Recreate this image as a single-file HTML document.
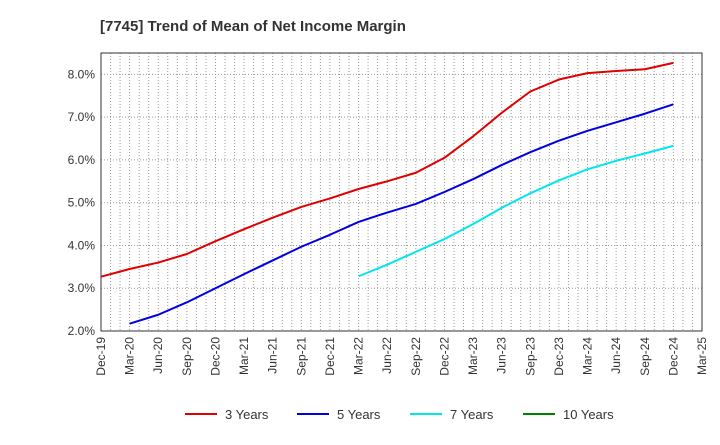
<!DOCTYPE html>
<html><head><meta charset="utf-8"><style>
body{margin:0;background:#fff;}
svg{font-family:"Liberation Sans",sans-serif;}
</style></head><body>
<svg width="720" height="440">
<text x="100" y="31" font-size="15" font-weight="bold" fill="#333">[7745]  Trend of Mean of Net Income Margin</text>
<g id="grid"></g>
<rect x="101" y="53" width="601" height="278" fill="none" stroke="#333" stroke-width="1"/>
<g id="yticks"></g><g id="xticks"></g><g id="series"></g><g id="legend"></g>
</svg>
<script>
const xLabels=["Dec-19","Mar-20","Jun-20","Sep-20","Dec-20","Mar-21","Jun-21","Sep-21","Dec-21","Mar-22","Jun-22","Sep-22","Dec-22","Mar-23","Jun-23","Sep-23","Dec-23","Mar-24","Jun-24","Sep-24","Dec-24","Mar-25"];
const yTicks=[2,3,4,5,6,7,8];
const y3=[3.27,3.45,3.6,3.8,4.1,4.38,4.65,4.9,5.1,5.32,5.5,5.7,6.05,6.55,7.1,7.6,7.88,8.03,8.08,8.12,8.27];
const y5=[null,2.17,2.38,2.67,3.0,3.33,3.65,3.97,4.25,4.55,4.77,4.97,5.25,5.55,5.88,6.18,6.45,6.68,6.88,7.08,7.3];
const y7=[null,null,null,null,null,null,null,null,null,3.28,3.55,3.85,4.15,4.5,4.88,5.22,5.52,5.78,5.98,6.15,6.33];
const y10=[];
const L=101,R=702,T=53,B=331,NS="http://www.w3.org/2000/svg";
const X=i=>L+(R-L)*i/(xLabels.length-1);
const Y=v=>B-(v-2)*(B-T)/6.5;
function mk(tag,at,p){const e=document.createElementNS(NS,tag);for(const k in at)e.setAttribute(k,at[k]);p.appendChild(e);return e;}
const grid=document.getElementById('grid');
for(let m=1;m<(xLabels.length-1)*3;m++){const x=L+(R-L)*m/((xLabels.length-1)*3);
const l=mk('line',{x1:x,x2:x,y1:T,y2:B,stroke:'#999','stroke-dasharray':'1,2'},grid);

}
const yt=document.getElementById('yticks');
yTicks.forEach(v=>{const y=Y(v);
const l=mk('line',{x1:L,x2:R,y1:y,y2:y,stroke:'#999','stroke-dasharray':'1,2'},grid);


const t=mk('text',{x:L-6,y:y+4,'text-anchor':'end','font-size':12,fill:'#333'},yt);
t.textContent=v.toFixed(1)+'%';

});
const xt=document.getElementById('xticks');
xLabels.forEach((s,i)=>{const x=X(i);
const t=mk('text',{x:x+4,y:B+6,'text-anchor':'end','font-size':12,fill:'#333',transform:`rotate(-90 ${x+4} ${B+6})`},xt);
t.textContent=s;

});
const sg=document.getElementById('series');
[[y3,'#e00000','3 Years'],[y5,'#0000e0','5 Years'],[y7,'#00e5ee','7 Years'],[y10,'#008000','10 Years']].forEach(([d,c,n],k)=>{
let pts=[];d.forEach((v,i)=>{if(v!=null)pts.push(X(i)+','+Y(v));});
if(pts.length){const p=mk('polyline',{points:pts.join(' '),fill:'none',stroke:c,'stroke-width':2,'stroke-linejoin':'round'},sg);

}
const lx=[185,297,410,523][k];
const lg=mk('g',{},document.getElementById('legend'));


mk('line',{x1:lx,x2:lx+32,y1:414,y2:414,stroke:c,'stroke-width':2},lg);
const t=mk('text',{x:lx+40,y:419,'font-size':13,fill:'#333'},lg);t.textContent=n;});
</script>
</body></html>
